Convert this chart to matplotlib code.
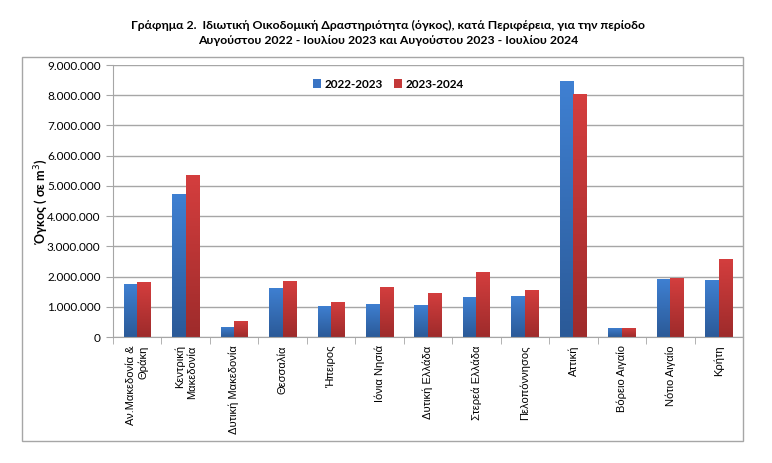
import numpy as np
import matplotlib
matplotlib.use("Agg")
from matplotlib import pyplot as plt
from matplotlib.colors import LinearSegmentedColormap
from matplotlib.patches import Rectangle
from matplotlib.ticker import FuncFormatter, MultipleLocator

regions = ["Αν.Μακεδονία &\nΘράκη", "Κεντρική\nΜακεδονία", "Δυτική Μακεδονία",
           "Θεσσαλία", "Ήπειρος", "Ιόνια Νησιά", "Δυτική Ελλάδα",
           "Στερεά Ελλάδα", "Πελοπόννησος", "Αττική", "Βόρειο Αιγαίο",
           "Νότιο Αιγαίο", "Κρήτη"]
vol_2223 = [1760000, 4740000, 340000, 1630000, 1040000, 1100000, 1070000,
            1330000, 1370000, 8470000, 310000, 1930000, 1890000]
vol_2324 = [1830000, 5360000, 540000, 1860000, 1170000, 1660000, 1460000,
            2160000, 1560000, 8040000, 310000, 1960000, 2590000]
series = ["2022-2023", "2023-2024"]

title = ("Γράφημα 2.  Ιδιωτική Οικοδομική Δραστηριότητα (όγκος), κατά Περιφέρεια, για την περίοδο\n"
         "Αυγούστου 2022 - Ιουλίου 2023 και Αυγούστου 2023 - Ιουλίου 2024")

W, H = 772, 463
fig = plt.figure(figsize=(W / 100, H / 100), dpi=100)

# outer chart frame
fig.patches.append(Rectangle((22 / W, 1 - 441 / H), (743 - 22) / W, (441 - 57) / H,
                             transform=fig.transFigure, fill=False,
                             edgecolor="#A6A6A6", lw=1.0))

ax = fig.add_axes([113 / W, 1 - 337 / H, (743 - 113) / W, (337 - 65) / H])

x = np.arange(len(regions))
w = 0.28
blue_cm = LinearSegmentedColormap.from_list("b", ["#2B5A98", "#3F80D2"])
red_cm = LinearSegmentedColormap.from_list("r", ["#9E2B2B", "#D43E3E"])
grad = np.linspace(0, 1, 64).reshape(-1, 1)

bars_b = ax.bar(x - w / 2, vol_2223, w, color="#3A74C4", label=series[0], zorder=2)
bars_r = ax.bar(x + w / 2, vol_2324, w, color="#C43838", label=series[1], zorder=2)
for bars, cm in ((bars_b, blue_cm), (bars_r, red_cm)):
    for b in bars:
        x0, y0 = b.get_x(), b.get_y()
        im = ax.imshow(grad, cmap=cm, origin="lower", aspect="auto",
                       extent=[x0, x0 + b.get_width(), y0, y0 + b.get_height()],
                       zorder=2.5)
        im.set_clip_path(b)

ax.set_xlim(-0.5, len(regions) - 0.5)
ax.set_ylim(0, 9000000)
ax.yaxis.set_major_locator(MultipleLocator(1000000))
ax.yaxis.set_major_formatter(FuncFormatter(lambda v, p: f"{int(v):,}".replace(",", ".")))
ax.grid(axis="y", color="#A6A6A6", lw=1.0, zorder=0)
ax.set_axisbelow(True)

ax.set_xticks(x)
ax.set_xticklabels(regions, rotation=90, fontsize=8, family="Liberation Sans",
                   va="top", ha="center", multialignment="right")
ax.set_xticks(np.arange(len(regions) + 1) - 0.5, minor=True)
ax.tick_params(axis="x", which="major", length=0, pad=6)
ax.tick_params(axis="x", which="minor", length=5, color="#A6A6A6", direction="out")
ax.tick_params(axis="y", length=5, color="#A6A6A6", labelsize=8.5, pad=4)
for lbl in ax.get_yticklabels():
    lbl.set_family("Lato")

for s in ("top", "right"):
    ax.spines[s].set_visible(False)
for s in ("left", "bottom"):
    ax.spines[s].set_color("#A6A6A6")

ax.set_ylabel("Όγκος ( σε m$^3$)", fontsize=9, fontweight="bold", family="Lato")
ax.yaxis.set_label_coords(-0.1, 0.5)

leg = ax.legend(loc="center", bbox_to_anchor=(0.437, 0.93), ncol=2, frameon=False,
                prop={"family": "Lato", "weight": "bold", "size": 8.5},
                handlelength=0.7, handleheight=0.7, handletextpad=0.25,
                columnspacing=1.0)

fig.text(388 / W, 1 - 33 / H, title, ha="center", va="center", fontsize=8.8,
         fontweight="bold", family="Lato", linespacing=1.35)

fig.savefig("out.png", dpi=100)
